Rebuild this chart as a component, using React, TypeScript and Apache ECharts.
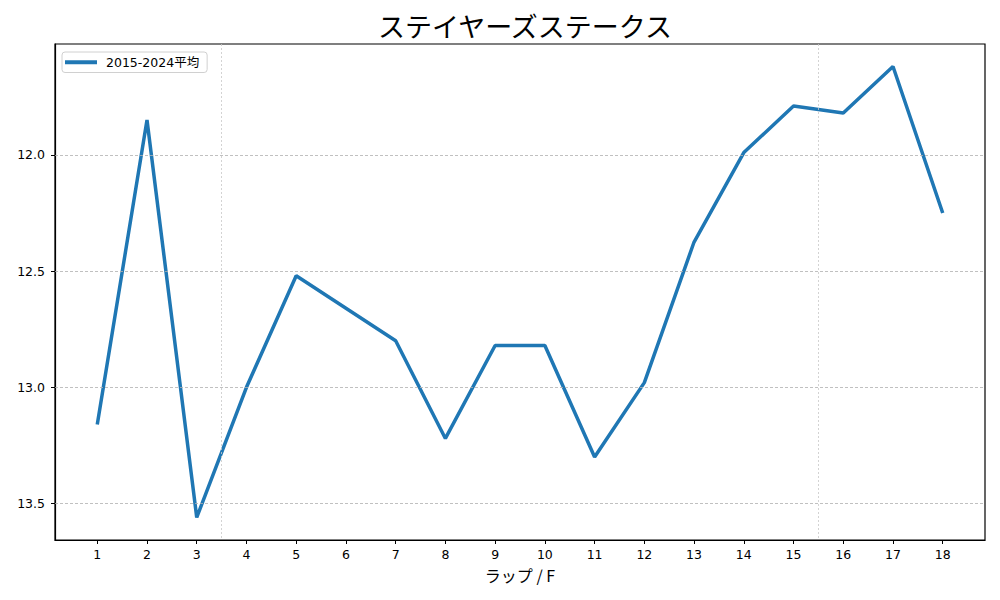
import React, { useEffect, useRef } from 'react';
import * as echarts from 'echarts';

// ラップ番号 (ハロン)
const laps = [1, 2, 3, 4, 5, 6, 7, 8, 9, 10, 11, 12, 13, 14, 15, 16, 17, 18];
// 2015-2024 平均ラップ (秒)
const avgLaps = [
  13.16, 11.85, 13.56, 13.0, 12.52, 12.66, 12.8, 13.22, 12.82,
  12.82, 13.3, 12.98, 12.375, 11.99, 11.79, 11.82, 11.62, 12.25,
];
const yTicks = [12.0, 12.5, 13.0, 13.5];
const sectionLines = [3.5, 15.5];

const seriesName = '2015-2024平均';
const FONT = '"DejaVu Sans", "Noto Sans CJK JP", sans-serif';
const CJK = '"Noto Sans CJK JP", "DejaVu Sans", sans-serif';

const App: React.FC = () => {
  const chartRef = useRef<HTMLDivElement>(null);

  useEffect(() => {
    const chart = echarts.init(chartRef.current!, undefined, { renderer: 'svg' });

    const lo = Math.min(...avgLaps);
    const hi = Math.max(...avgLaps);
    const pad = (hi - lo) * 0.05;
    const xPad = (laps[laps.length - 1] - laps[0]) * 0.05;

    const options = {
      animation: false,
      textStyle: { fontFamily: FONT },
      title: {
        text: 'ステイヤーズステークス',
        left: 520,
        textAlign: 'center',
        top: 7,
        textStyle: { fontSize: 27, fontWeight: 'normal', color: '#000', fontFamily: CJK },
      },
      legend: {
        data: [seriesName],
        left: 62,
        top: 52,
        orient: 'vertical',
        itemWidth: 32,
        itemHeight: 4,
        padding: [4, 8, 4, 3],
        borderColor: '#d0d0d0',
        borderWidth: 1,
        borderRadius: 3,
        backgroundColor: 'rgba(255,255,255,0.8)',
        textStyle: { fontSize: 12.5, color: '#000', fontFamily: FONT, padding: [0, 0, 0, 4] },
        icon: 'rect',
      },
      grid: {
        left: 55,
        top: 44,
        right: 15,
        bottom: 60,
        containLabel: false,
        show: true,
        borderColor: '#000',
        borderWidth: 1.2,
        backgroundColor: 'transparent',
      },
      xAxis: {
        type: 'value',
        min: laps[0] - xPad,
        max: laps[laps.length - 1] + xPad,
        name: 'ラップ / F',
        nameLocation: 'middle',
        nameGap: 27,
        nameTextStyle: { fontSize: 16, color: '#000', fontFamily: CJK },
        axisLine: { show: true, onZero: false, lineStyle: { color: '#000', width: 1.2 } },
        axisTick: { show: true, inside: false, length: 4, customValues: laps, lineStyle: { color: '#000' } },
        axisLabel: { customValues: laps, fontSize: 12.5, color: '#000', margin: 8, fontFamily: FONT },
        splitLine: { show: false },
      },
      yAxis: {
        type: 'value',
        inverse: true,
        min: lo - pad,
        max: hi + pad,
        axisLine: { show: true, onZero: false, lineStyle: { color: '#000', width: 1.2 } },
        axisTick: { show: true, inside: false, length: 4, customValues: yTicks, lineStyle: { color: '#000' } },
        axisLabel: {
          customValues: yTicks,
          fontSize: 12.5,
          color: '#000',
          margin: 10,
          fontFamily: FONT,
          formatter: (v: number) => v.toFixed(1),
        },
        splitLine: { show: false },
      },
      series: [
        {
          name: 'grid',
          type: 'line',
          z: 1,
          data: [],
          silent: true,
          markLine: {
            silent: true,
            symbol: 'none',
            label: { show: false },
            data: [
              ...yTicks.map((v) => ({
                yAxis: v,
                lineStyle: { color: '#b0b0b0', type: [3, 2], width: 0.8 },
              })),
              ...sectionLines.map((v) => ({
                xAxis: v,
                lineStyle: { color: '#c8c8c8', type: [2, 2], width: 0.8 },
              })),
            ],
          },
        },
        {
          name: seriesName,
          type: 'line',
          z: 3,
          data: laps.map((l, i) => [l, avgLaps[i]]),
          showSymbol: false,
          symbol: 'none',
          lineStyle: { color: '#1f77b4', width: 3.5 },
          itemStyle: { color: '#1f77b4' },
        },
      ],
    };

    chart.setOption(options);

    return () => {
      chart.dispose();
    };
  }, []);

  return (
    <div
      ref={chartRef}
      style={{ position: 'fixed', left: 0, top: 0, width: '1000px', height: '600px', background: '#fff' }}
    />
  );
};

export default App;
